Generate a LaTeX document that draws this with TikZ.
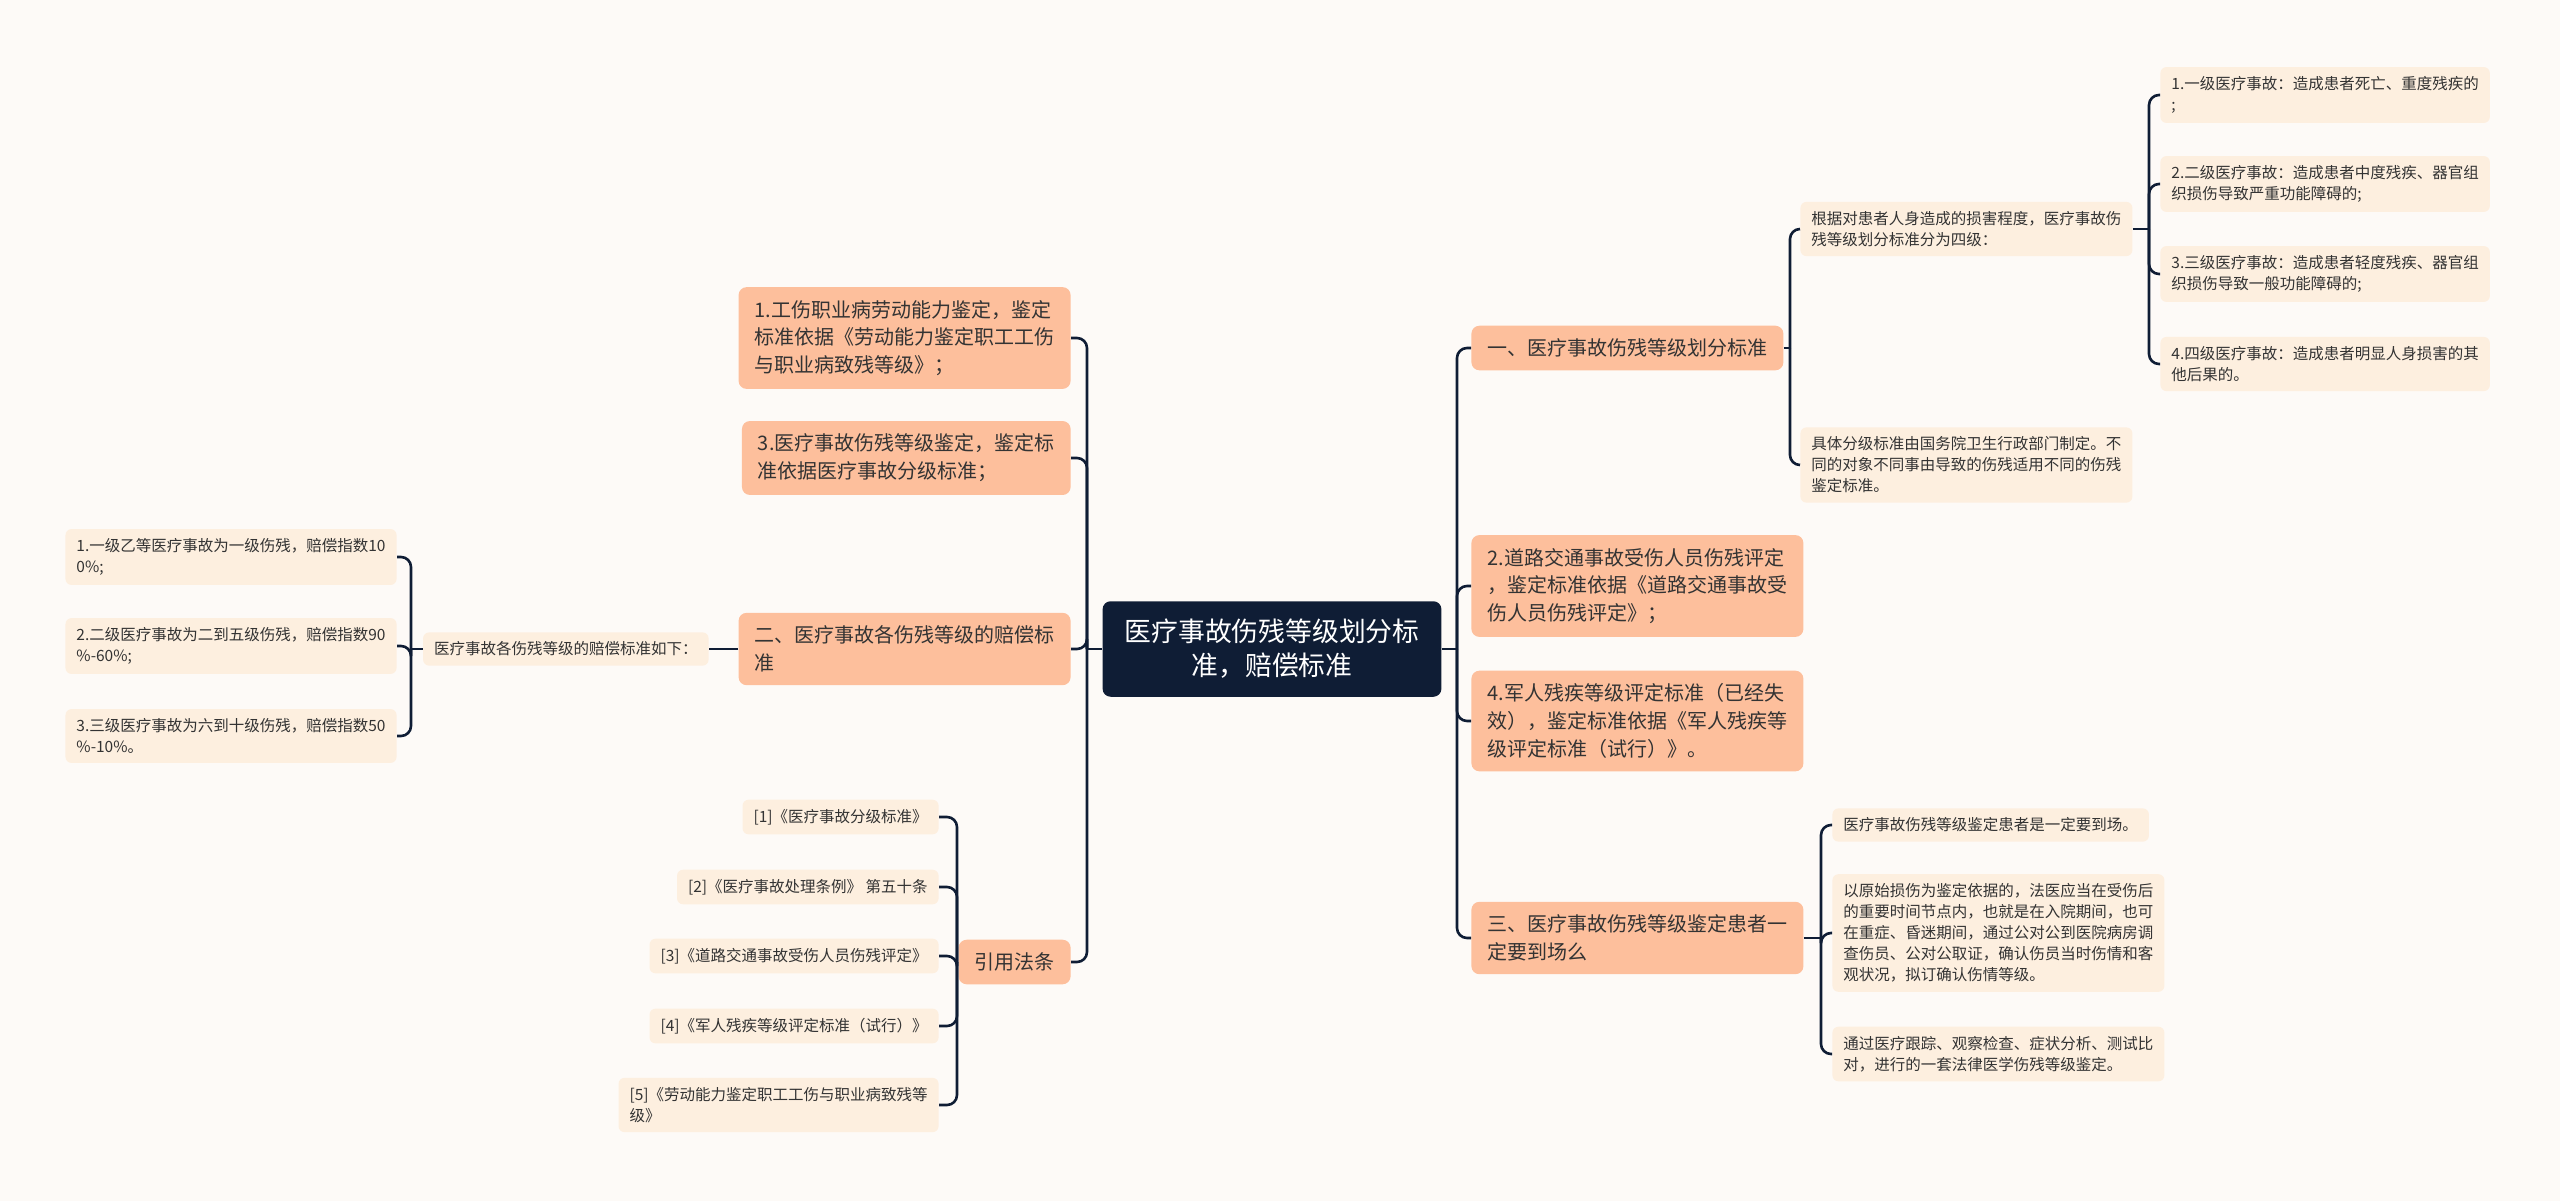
\documentclass[tikz,border=0pt]{standalone}
\usepackage{fontspec}
\setmainfont{Noto Sans CJK SC}
\usepackage{xcolor}
\usepackage{tikz}
\definecolor{bgcream}{HTML}{FDFAF7}
\definecolor{rootnavy}{HTML}{0F1D35}
\definecolor{peach}{HTML}{FDBF9C}
\definecolor{cream}{HTML}{FDEFDF}
\definecolor{inkgray}{HTML}{333333}
\tikzset{
  link/.style={line width=1.3pt, rootnavy, rounded corners=5pt},
  rootbox/.style={rectangle, rounded corners=4pt, fill=rootnavy, text=white, align=center, inner xsep=11pt, inner ysep=9pt, font=\fontsize{13.4}{17}\selectfont},
  lvone/.style={rectangle, rounded corners=4pt, fill=peach, text=inkgray, align=left, inner xsep=8pt, inner ysep=6.5pt, font=\fontsize{10}{13.9}\selectfont},
  leaf/.style={rectangle, rounded corners=3pt, fill=cream, text=inkgray, align=left, inner xsep=5.5pt, inner ysep=4.7pt, font=\fontsize{7.75}{10.5}\selectfont},
}

\begin{document}
\begin{tikzpicture}[x=0.5pt, y=-0.5pt]
\useasboundingbox (0,0) rectangle (2560,1201);
\fill[bgcream] (0,0) rectangle (2560,1201);

% centre
\node[rootbox] (root) at (1272,649) {医疗事故伤残等级划分标\\准，赔偿标准};

% right side
\node[lvone, anchor=west] (a1) at (1471,348) {一、医疗事故伤残等级划分标准};
\node[lvone, anchor=west] (a2) at (1471,586) {2.道路交通事故受伤人员伤残评定\\，鉴定标准依据《道路交通事故受\\伤人员伤残评定》；};
\node[lvone, anchor=west] (a3) at (1471,721) {4.军人残疾等级评定标准（已经失\\效），鉴定标准依据《军人残疾等\\级评定标准（试行）》。};
\node[lvone, anchor=west] (a4) at (1471,938) {三、医疗事故伤残等级鉴定患者一\\定要到场么};

\node[leaf, anchor=west] (b1) at (1800,229) {根据对患者人身造成的损害程度，医疗事故伤\\残等级划分标准分为四级：};
\node[leaf, anchor=west] (b2) at (1800,465) {具体分级标准由国务院卫生行政部门制定。不\\同的对象不同事由导致的伤残适用不同的伤残\\鉴定标准。};

\node[leaf, anchor=west] (c1) at (2160,95) {1.一级医疗事故：造成患者死亡、重度残疾的\\;};
\node[leaf, anchor=west] (c2) at (2160,184) {2.二级医疗事故：造成患者中度残疾、器官组\\织损伤导致严重功能障碍的;};
\node[leaf, anchor=west] (c3) at (2160,274) {3.三级医疗事故：造成患者轻度残疾、器官组\\织损伤导致一般功能障碍的;};
\node[leaf, anchor=west] (c4) at (2160,364) {4.四级医疗事故：造成患者明显人身损害的其\\他后果的。};

\node[leaf, anchor=west] (d1) at (1832,825) {医疗事故伤残等级鉴定患者是一定要到场。};
\node[leaf, anchor=west] (d2) at (1832,933) {以原始损伤为鉴定依据的，法医应当在受伤后\\的重要时间节点内，也就是在入院期间，也可\\在重症、昏迷期间，通过公对公到医院病房调\\查伤员、公对公取证，确认伤员当时伤情和客\\观状况，拟订确认伤情等级。};
\node[leaf, anchor=west] (d3) at (1832,1054) {通过医疗跟踪、观察检查、症状分析、测试比\\对，进行的一套法律医学伤残等级鉴定。};

% left side
\node[lvone, anchor=east] (l1) at (1071,338) {1.工伤职业病劳动能力鉴定，鉴定\\标准依据《劳动能力鉴定职工工伤\\与职业病致残等级》；};
\node[lvone, anchor=east] (l2) at (1071,458) {3.医疗事故伤残等级鉴定，鉴定标\\准依据医疗事故分级标准；};
\node[lvone, anchor=east] (l3) at (1071,649) {二、医疗事故各伤残等级的赔偿标\\准};
\node[lvone, anchor=east] (l4) at (1071,962) {引用法条};

\node[leaf, anchor=east] (nn) at (709,649) {医疗事故各伤残等级的赔偿标准如下：};
\node[leaf, anchor=east] (m1) at (397,557) {1.一级乙等医疗事故为一级伤残，赔偿指数10\\0\%;};
\node[leaf, anchor=east] (m2) at (397,646) {2.二级医疗事故为二到五级伤残，赔偿指数90\\\%-60\%;};
\node[leaf, anchor=east] (m3) at (397,736) {3.三级医疗事故为六到十级伤残，赔偿指数50\\\%-10\%。};

\node[leaf, anchor=east] (r1) at (939,817) {[1]《医疗事故分级标准》};
\node[leaf, anchor=east] (r2) at (939,887) {[2]《医疗事故处理条例》 第五十条};
\node[leaf, anchor=east] (r3) at (939,956) {[3]《道路交通事故受伤人员伤残评定》};
\node[leaf, anchor=east] (r4) at (939,1026) {[4]《军人残疾等级评定标准（试行）》};
\node[leaf, anchor=east] (r5) at (939,1105) {[5]《劳动能力鉴定职工工伤与职业病致残等\\级》};

% junctions
\coordinate (jr) at (1457,649);
\coordinate (jl) at (1087,649);
\coordinate (ja1) at (1790,348);
\coordinate (jb1) at (2149,229);
\coordinate (ja4) at (1821,938);
\coordinate (jn) at (411,649);
\coordinate (jl4) at (957,962);

% connectors
\draw[link] (root.east) -- (jr);
\foreach \c in {a1,a2,a3,a4} \draw[link] (jr) |- (\c.west);
\draw[link] (root.west) -- (jl);
\foreach \c in {l1,l2,l3,l4} \draw[link] (jl) |- (\c.east);
\draw[link] (a1.east) -- (ja1);
\foreach \c in {b1,b2} \draw[link] (ja1) |- (\c.west);
\draw[link] (b1.east) -- (jb1);
\foreach \c in {c1,c2,c3,c4} \draw[link] (jb1) |- (\c.west);
\draw[link] (a4.east) -- (ja4);
\foreach \c in {d1,d2,d3} \draw[link] (ja4) |- (\c.west);
\draw[link] (l3.west) -- (nn.east);
\draw[link] (nn.west) -- (jn);
\foreach \c in {m1,m2,m3} \draw[link] (jn) |- (\c.east);
\draw[link] (l4.west) -- (jl4);
\foreach \c in {r1,r2,r3,r4,r5} \draw[link] (jl4) |- (\c.east);
\end{tikzpicture}
\end{document}
